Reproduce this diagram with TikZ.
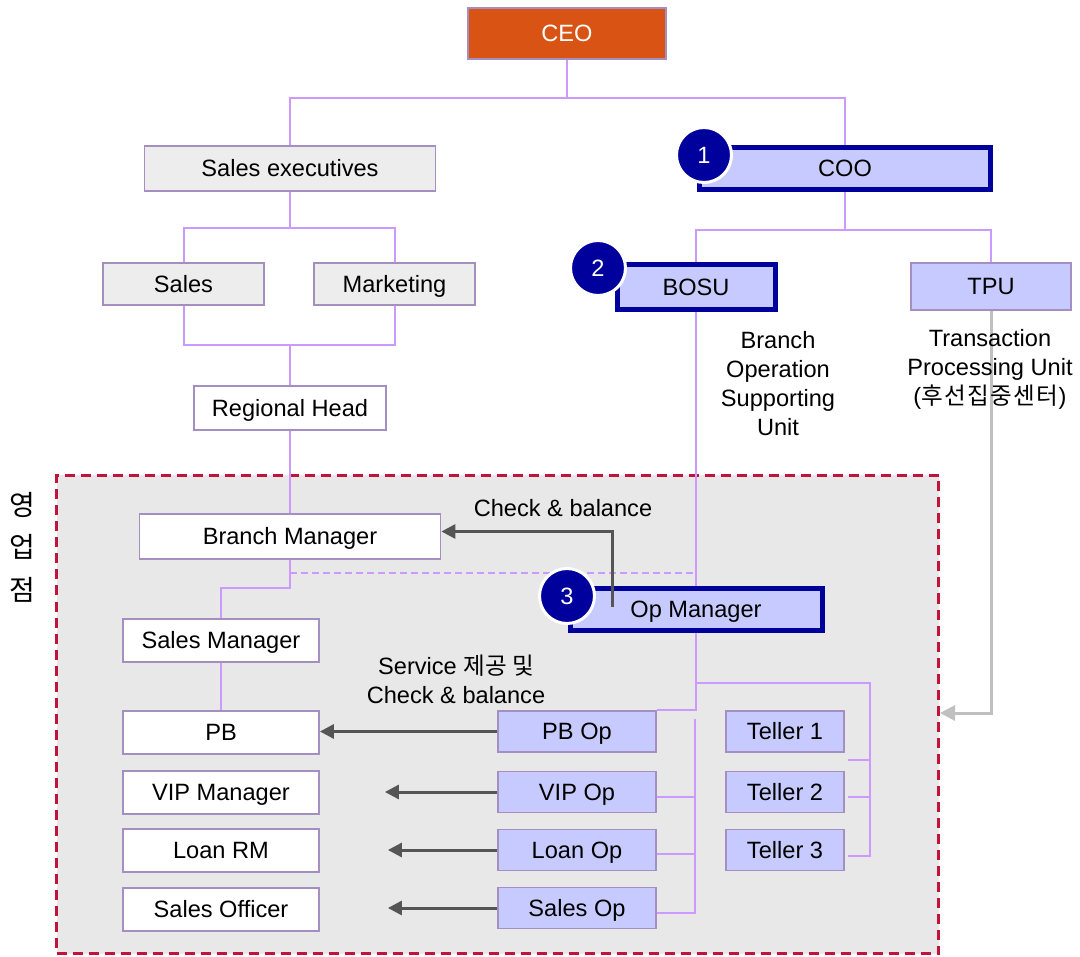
\documentclass[tikz,border=0pt]{standalone}
\usepackage{fontspec}
\setmainfont{Liberation Sans}
\newfontfamily\cjk{Noto Sans CJK KR}
\usetikzlibrary{arrows.meta}

\definecolor{ceofill}{HTML}{D95414}
\definecolor{boxline}{HTML}{A48FC0}
\definecolor{grayfill}{HTML}{EDEDED}
\definecolor{bluefill}{HTML}{C6CAFE}
\definecolor{navy}{HTML}{00009C}
\definecolor{connc}{HTML}{CC99FF}
\definecolor{regionfill}{HTML}{E8E8E8}
\definecolor{regionc}{HTML}{C0143C}
\definecolor{arrowc}{HTML}{555555}
\definecolor{tpuc}{HTML}{C0C0C0}

\newcommand\lbl{\fontsize{23.6pt}{29pt}\selectfont}
\newcommand\vlbl{\cjk\fontsize{28pt}{42.5pt}\selectfont}

\begin{document}
\begin{tikzpicture}[x=1pt,y=-1pt,
  orgbox/.style={draw=boxline, line width=1.8pt, inner sep=0pt, font=\lbl, text=black,
                 text height=16.9pt, text depth=0pt},
  graybox/.style={orgbox, fill=grayfill},
  whitebox/.style={orgbox, fill=white},
  bluebox/.style={orgbox, fill=bluefill},
  keybox/.style={orgbox, fill=bluefill, draw=navy, line width=5pt},
  badge/.style={circle, fill=navy, draw=white, line width=3pt, minimum size=55pt,
                inner sep=0pt, text=white, font=\lbl},
  region/.style={draw=regionc, fill=regionfill, line width=3pt,
                 dash pattern=on 10pt off 6pt, inner sep=0pt,
                 minimum width=882pt, minimum height=478pt},
  conn/.style={draw=connc, line width=2pt},
  checkarrow/.style={draw=arrowc, line width=3pt, -{Triangle[length=14pt,width=14pt]}},
  tpuarrow/.style={draw=tpuc, line width=3pt, -{Triangle[length=15pt,width=15pt]}},
  note/.style={font=\lbl, align=center, inner sep=0pt, text=black}
]
\useasboundingbox (0,0) rectangle (1080,957);

% branch office area
\node[region] (branch) at (497.5,714.5) {};

% head office
\node[orgbox, fill=ceofill, text=white, minimum width=198pt, minimum height=51pt] (ceo) at (567,33.5) {CEO};
\node[graybox, minimum width=291pt, minimum height=45pt] (sexec) at (290,168.5) {Sales executives};
\node[keybox, minimum width=291pt, minimum height=42pt] (coo) at (845,168.5) {COO};
\node[graybox, minimum width=161pt, minimum height=42pt] (sales) at (183.5,284) {Sales};
\node[graybox, minimum width=161pt, minimum height=42pt] (mkt) at (394.5,284) {Marketing};
\node[whitebox, minimum width=192pt, minimum height=44pt] (rhead) at (290,408) {Regional Head};
\node[keybox, minimum width=158pt, minimum height=45pt] (bosu) at (696,287) {BOSU};
\node[bluebox, minimum width=160pt, minimum height=47pt] (tpu) at (991,286.5) {TPU};

% branch office
\node[whitebox, minimum width=301pt, minimum height=45pt] (bmgr) at (290,536.5) {Branch Manager};
\node[keybox, minimum width=252pt, minimum height=42pt] (opmgr) at (696,609.5) {Op Manager};
\node[whitebox, minimum width=196pt, minimum height=43pt] (smgr) at (221,640.5) {Sales Manager};
\node[whitebox, minimum width=196pt, minimum height=43pt] (pb) at (221,732.5) {PB};
\node[whitebox, minimum width=196pt, minimum height=43pt] (vip) at (221,792.5) {VIP Manager};
\node[whitebox, minimum width=196pt, minimum height=43pt] (loan) at (221,850.5) {Loan RM};
\node[whitebox, minimum width=196pt, minimum height=43pt] (sofficer) at (221,909.5) {Sales Officer};
\node[bluebox, minimum width=158pt, minimum height=41pt] (pbop) at (577,731.5) {PB Op};
\node[bluebox, minimum width=158pt, minimum height=41pt] (vipop) at (577,792) {VIP Op};
\node[bluebox, minimum width=158pt, minimum height=41pt] (loanop) at (577,850) {Loan Op};
\node[bluebox, minimum width=158pt, minimum height=41pt] (salesop) at (577,908) {Sales Op};
\node[bluebox, minimum width=118pt, minimum height=41pt] (t1) at (785,731.5) {Teller 1};
\node[bluebox, minimum width=118pt, minimum height=41pt] (t2) at (785,792) {Teller 2};
\node[bluebox, minimum width=118pt, minimum height=41pt] (t3) at (785,850) {Teller 3};

% reporting lines
\draw[conn] (ceo.south) -- ++(0,38) coordinate (j0);
\draw[conn] (sexec.north) |- (j0) -| (coo.north);
\draw[conn] (sexec.south) -- ++(0,36) coordinate (j1);
\draw[conn] (sales.north) |- (j1) -| (mkt.north);
\path (rhead.north) ++(0,-40) coordinate (j2);
\draw[conn] (sales.south) |- (j2) -| (mkt.south);
\draw[conn] (j2) -- (rhead.north);
\draw[conn] (rhead.south) -- (bmgr.north);
\draw[conn] (coo.south) -- ++(0,38) coordinate (j3);
\draw[conn] (bosu.north) |- (j3) -| (tpu.north);
\draw[conn] (bosu.south) -- (opmgr.north);

% branch lines
\draw[conn] (bmgr.south) -- ++(0,28) -| (smgr.north);
\path (bmgr.south) ++(0,13) coordinate (dl);
\draw[conn, dash pattern=on 7pt off 4pt] (dl) -- (dl -| opmgr.north);
\draw[conn] (smgr.south) -- (pb.north);
\draw[conn] (opmgr.south) |- (pbop.north east);
\path (opmgr.south) ++(0,50) coordinate (tb);
\draw[conn] (tb) -| ([xshift=25pt,yshift=-6pt]t3.east) -- ([xshift=3pt,yshift=-6pt]t3.east);
\draw[conn] ([xshift=3pt,yshift=-5pt]t2.east) -- ++(22,0);
\draw[conn] ([xshift=3pt]t1.south east) ++(0,7) -- ++(22,0);
\path (pbop.north east) ++(38,9) coordinate (ob);
\draw[conn] (ob) |- ([yshift=-5pt]salesop.east);
\draw[conn] ([yshift=-5pt]vipop.east) -- ([yshift=-5pt]vipop.east -| ob);
\draw[conn] ([yshift=-4pt]loanop.east) -- ([yshift=-4pt]loanop.east -| ob);

% check and balance arrows
\path (opmgr.north west) ++(45,21) coordinate (cb);
\draw[checkarrow] (cb) |- ([yshift=5pt]bmgr.east);
\draw[checkarrow] (pbop.west) -- (pbop.west -| pb.east);
\path (vip.east) ++(65,0) coordinate (vipend);
\path (loan.east) ++(68,0) coordinate (loanend);
\path (sofficer.east) ++(68,0) coordinate (soend);
\draw[checkarrow] (vipop.west) -- (vipop.west -| vipend);
\draw[checkarrow] (loanop.west) -- (loanop.west -| loanend);
\draw[checkarrow] (salesop.west) -- (salesop.west -| soend);

% TPU feed into the branch
\draw[tpuarrow] (tpu.south) |- ([yshift=1.5pt]branch.east);

% labels
\node[note] (bosutxt) at (778,383.5) {Branch\\Operation\\Supporting\\Unit};
\node[note] (tputxt) at (990,369) {Transaction\\Processing Unit\\({\cjk\addfontfeatures{LetterSpace=6} 후선집중센터})};
\node[note] (cbtxt) at (563,508) {Check \& balance};
\node[note] (svctxt) at (456,679) {Service {\cjk 제공 및}\\Check \& balance};
\node[align=center, inner sep=0pt, font=\vlbl] (brtxt) at (22,547) {영\\업\\점};

% numbered markers
\node[badge] (b1) at (704,155) {1};
\node[badge] (b2) at (598,268) {2};
\node[badge] (b3) at (567,596) {3};
\end{tikzpicture}
\end{document}
